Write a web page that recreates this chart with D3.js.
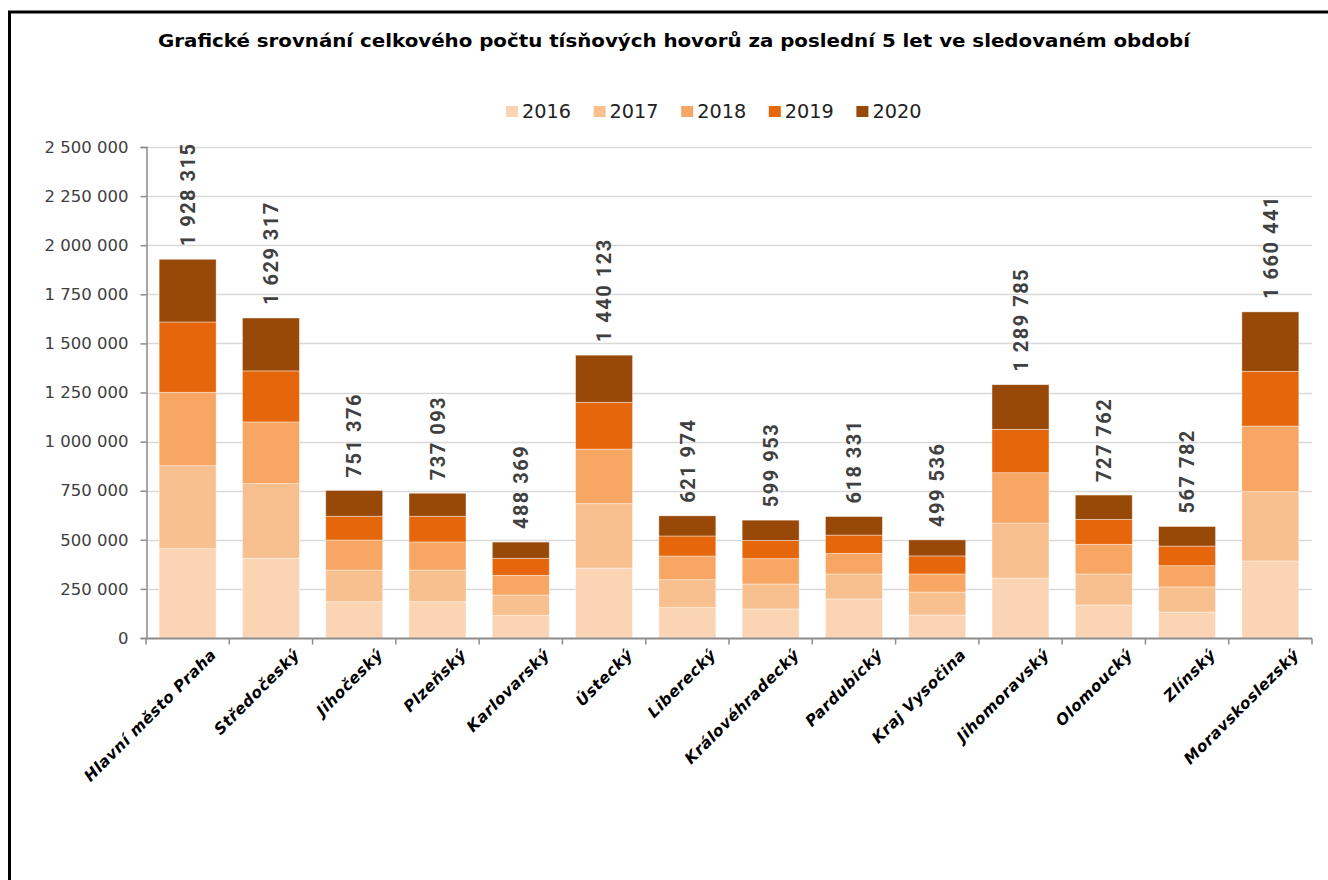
<!DOCTYPE html>
<html>
<head>
<meta charset="utf-8">
<script src="https://cdn.jsdelivr.net/npm/d3@7"></script>
<style>
  html, body { margin: 0; padding: 0; background: #fff; }
  svg { display: block; }
</style>
</head>
<body>
<script>
const categories = ["Hlavní město Praha","Středočeský","Jihočeský","Plzeňský","Karlovarský","Ústecký","Liberecký","Královéhradecký","Pardubický","Kraj Vysočina","Jihomoravský","Olomoucký","Zlínský","Moravskoslezský"];
const years = ["2016","2017","2018","2019","2020"];
const v2016 = [455000,406000,185000,185000,114000,356000,154500,148000,199000,117000,305500,168000,132000,392000];
const v2017 = [422000,380000,161000,161000,105000,328000,142500,127000,127000,117000,280000,158000,128000,353000];
const v2018 = [374000,314000,153000,143000,100000,278000,120500,129000,105000,92000,256000,151000,108000,334000];
const v2019 = [358000,260000,121000,131000,87000,238000,102000,93000,93000,92000,221000,127000,100000,279000];
const v2020 = [319315,269317,131376,117093,82369,240123,102474,102953,94331,81536,227285,123762,99782,302441];
const totals = [1928315,1629317,751376,737093,488369,1440123,621974,599953,618331,499536,1289785,727762,567782,1660441];
const yTicks = [0,250000,500000,750000,1000000,1250000,1500000,1750000,2000000,2250000,2500000];
const colors = ["#FBD4B4","#F9C08F","#F7A664","#E5660B","#984807"];
const title = "Grafické srovnání celkového počtu tísňových hovorů za poslední 5 let ve sledovaném období";

const W = 1328, H = 880;
const svg = d3.select("body").append("svg").attr("width", W).attr("height", H);

// outer frame (only left & top visible)
svg.append("path").attr("d", `M9.5,${H} L9.5,12 L${W},12`).attr("fill","none").attr("stroke","#000").attr("stroke-width",3);

const locale = d3.formatLocale({thousands: " ", grouping: [3], decimal: ",", currency: ["",""]});
const fmt = locale.format(",d");

const x = d3.scaleBand().domain(categories).range([146, 1312]).paddingInner(0.316).paddingOuter(0.158);
const y = d3.scaleLinear().domain([0, 2500000]).range([638, 147]);

// title
svg.append("text").attr("x", 674).attr("y", 47).attr("text-anchor","middle")
  .attr("font-family","DejaVu Sans").attr("font-weight","bold").attr("font-size",17)
  .attr("textLength", 1032).attr("lengthAdjust","spacingAndGlyphs")
  .attr("fill","#000").text(title);

// legend
const legend = svg.append("g");
years.forEach((yr, i) => {
  const lx = 506 + i * 87.6;
  legend.append("rect").attr("x", lx).attr("y", 106).attr("width", 12).attr("height", 11).attr("fill", colors[i]);
  legend.append("text").attr("x", lx + 16).attr("y", 118).attr("font-family","DejaVu Sans").attr("font-size",19)
    .attr("textLength", 49).attr("lengthAdjust","spacingAndGlyphs")
    .attr("fill","#222").text(yr);
});

// gridlines
svg.append("g").selectAll("line").data(yTicks.slice(1)).join("line")
  .attr("x1", 146).attr("x2", 1312).attr("y1", d => Math.round(y(d)) + 0.5).attr("y2", d => Math.round(y(d)) + 0.5)
  .attr("stroke","#D9D9D9").attr("stroke-width",1.5);

// y axis
const yAxis = svg.append("g").attr("transform","translate(146.5,0)")
  .call(d3.axisLeft(y).tickValues(yTicks).tickFormat(fmt).tickSize(6).tickPadding(12));
yAxis.select(".domain").attr("stroke","#8C8C8C").attr("stroke-width",1.5);
yAxis.selectAll(".tick line").attr("stroke","#8C8C8C").attr("stroke-width",1.5);
yAxis.selectAll(".tick text").attr("font-family","DejaVu Sans").attr("font-size",16.5).attr("fill","#404040");

// stacked bars
const table = categories.map((c, i) => ({cat: c, "2016": v2016[i], "2017": v2017[i], "2018": v2018[i], "2019": v2019[i], "2020": v2020[i]}));
const series = d3.stack().keys(years)(table);
svg.append("g").selectAll("g").data(series).join("g").attr("fill", (d, i) => colors[i])
  .selectAll("rect").data(d => d).join("rect")
  .attr("x", d => x(d.data.cat)).attr("width", x.bandwidth())
  .attr("y", d => y(d[1])).attr("height", d => y(d[0]) - y(d[1]))
  .attr("stroke","#fff").attr("stroke-opacity",0.5).attr("stroke-width",0.8);

// x axis
const xAxisG = svg.append("g").attr("transform","translate(0,638.5)");
xAxisG.append("line").attr("x1",146).attr("x2",1312).attr("stroke","#8C8C8C").attr("stroke-width",2);
const bounds = categories.map(c => x(c) - x.step() * x.paddingInner() / 2).concat([1312]);
xAxisG.selectAll("line.t").data(bounds).join("line").attr("class","t")
  .attr("x1", d => d).attr("x2", d => d).attr("y1", 0).attr("y2", 6)
  .attr("stroke","#8C8C8C").attr("stroke-width",1.5);

// category labels
svg.append("g").selectAll("text").data(categories).join("text")
  .attr("transform", d => `translate(${x(d) + x.bandwidth() / 2 + 22},648) rotate(-45)`)
  .attr("text-anchor","end").attr("dy","0.7em")
  .attr("font-family","DejaVu Sans").attr("font-weight","bold").attr("font-style","italic").attr("font-size",15.5)
  .attr("letter-spacing","0.5px")
  .attr("fill","#000").text(d => d);

// total labels
svg.append("g").selectAll("text").data(categories).join("text")
  .attr("transform", (d, i) => `translate(${x(d) + x.bandwidth() / 2},${y(totals[i]) - 13}) rotate(-90)`)
  .attr("dy","0.36em").attr("text-anchor","start")
  .attr("font-family","Roboto").attr("font-weight","bold").attr("font-size",20).attr("letter-spacing","1.5px")
  .attr("fill","#404040").text((d, i) => fmt(totals[i]));
</script>
</body>
</html>
